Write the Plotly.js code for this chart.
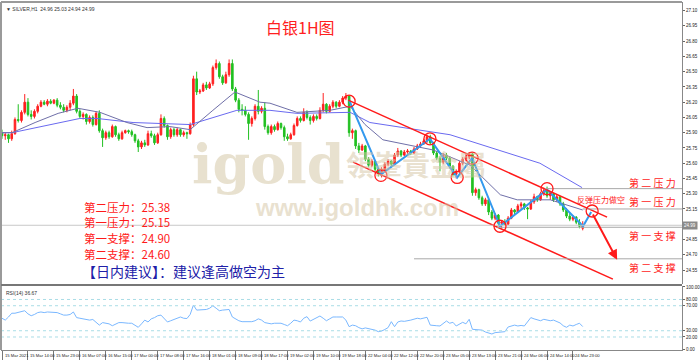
<!DOCTYPE html>
<html><head><meta charset="utf-8">
<script src="https://cdn.plot.ly/plotly-3.0.1.min.js"></script>
<style>html,body{margin:0;padding:0;background:#fff}#c{width:700px;height:361px}</style>
</head><body><div id="c"></div>
<script>
// ---- data ----
const opens = [25.90,25.87,25.88,25.84,25.89,26.03,26.02,26.10,26.20,26.08,26.06,26.11,26.16,26.20,26.18,26.21,26.19,26.22,26.17,26.15,26.12,26.15,26.19,26.26,26.11,26.06,26.08,26.01,26.05,25.98,26.09,25.92,25.85,25.90,25.86,25.96,25.88,25.84,25.90,25.92,25.91,25.88,25.82,25.76,25.80,25.78,25.89,25.87,25.80,25.88,26.04,25.97,25.86,25.93,25.88,25.93,25.88,25.90,25.89,25.98,26.43,26.30,26.31,26.37,26.34,26.38,26.54,26.58,26.45,26.39,26.47,26.58,26.33,26.22,26.13,26.12,26.08,25.99,26.04,26.16,26.11,26.14,25.96,25.90,25.96,25.93,25.99,25.95,25.86,25.84,25.88,25.97,26.04,26.02,26.10,26.05,26.02,26.06,26.04,26.12,26.18,26.11,26.16,26.20,26.16,26.20,26.24,26.26,25.90,25.92,25.77,25.73,25.77,25.64,25.58,25.62,25.54,25.50,25.53,25.59,25.62,25.59,25.68,25.72,25.68,25.71,25.72,25.70,25.74,25.77,25.79,25.82,25.86,25.80,25.70,25.65,25.61,25.68,25.65,25.57,25.49,25.52,25.60,25.64,25.66,25.69,25.31,25.34,25.26,25.20,25.24,25.12,25.06,25.09,25.01,25.02,25.00,25.06,25.14,25.12,25.18,25.20,25.16,25.15,25.22,25.27,25.24,25.30,25.33,25.28,25.30,25.24,25.27,25.20,25.14,25.08,25.05,25.07,25.02,24.96];
const highs = [25.93,25.90,25.89,25.92,26.05,26.18,26.12,26.28,26.24,26.12,26.13,26.18,26.22,26.22,26.23,26.23,26.23,26.24,26.20,26.18,26.17,26.22,26.33,26.28,26.13,26.10,26.09,26.07,26.07,26.11,26.12,25.94,25.92,25.92,25.98,25.97,25.90,25.92,25.93,25.93,25.93,25.89,25.84,25.82,25.83,25.92,25.92,25.89,25.90,26.08,26.06,25.98,25.95,25.95,25.95,25.94,25.92,25.91,26.00,26.46,26.50,26.33,26.39,26.40,26.40,26.56,26.62,26.60,26.47,26.50,26.62,26.62,26.35,26.24,26.18,26.16,26.10,26.06,26.18,26.32,26.16,26.20,25.98,25.98,25.98,26.01,26.00,25.97,25.89,25.90,25.99,26.06,26.06,26.14,26.12,26.07,26.08,26.08,26.15,26.29,26.19,26.18,26.22,26.21,26.22,26.26,26.29,26.27,25.94,25.93,25.80,25.79,25.78,25.66,25.64,25.63,25.56,25.56,25.61,25.64,25.63,25.70,25.75,25.73,25.73,25.74,25.73,25.76,25.79,25.81,25.84,25.88,25.88,25.81,25.72,25.67,25.70,25.70,25.67,25.58,25.54,25.62,25.66,25.70,25.71,25.70,25.36,25.35,25.28,25.26,25.25,25.14,25.11,25.10,25.04,25.05,25.08,25.16,25.15,25.20,25.22,25.21,25.17,25.24,25.30,25.28,25.32,25.36,25.37,25.32,25.31,25.29,25.28,25.22,25.16,25.12,25.09,25.08,25.05,25.03];
const lows = [25.84,25.83,25.80,25.82,25.88,26.00,26.00,26.08,26.06,26.03,26.04,26.09,26.15,26.17,26.16,26.18,26.18,26.15,26.13,26.10,26.10,26.12,26.17,26.09,26.04,26.03,25.98,25.99,25.96,25.97,25.90,25.76,25.83,25.84,25.85,25.86,25.82,25.83,25.89,25.89,25.86,25.80,25.71,25.74,25.76,25.77,25.85,25.78,25.79,25.87,25.95,25.83,25.84,25.86,25.86,25.86,25.86,25.84,25.88,25.96,26.27,26.28,26.30,26.32,26.33,26.36,26.52,26.43,26.37,26.38,26.45,26.31,26.20,26.10,26.07,26.06,25.83,25.96,26.02,26.08,26.09,25.93,25.88,25.88,25.91,25.92,25.93,25.82,25.82,25.83,25.87,25.96,26.00,26.01,26.03,25.98,26.00,26.02,26.03,26.10,26.09,26.10,26.14,26.14,26.15,26.18,26.22,25.86,25.84,25.74,25.70,25.72,25.62,25.56,25.56,25.52,25.47,25.46,25.51,25.57,25.57,25.58,25.66,25.66,25.67,25.69,25.68,25.69,25.73,25.75,25.78,25.80,25.78,25.68,25.63,25.52,25.59,25.63,25.55,25.47,25.45,25.51,25.58,25.62,25.64,25.28,25.28,25.24,25.18,25.18,25.09,25.04,25.04,24.98,24.96,24.99,24.99,25.05,25.10,25.11,25.15,25.14,25.05,25.14,25.20,25.22,25.23,25.28,25.26,25.24,25.22,25.22,25.18,25.12,25.06,25.03,25.03,25.00,24.96,24.94];
const closes = [25.87,25.88,25.84,25.89,26.03,26.02,26.10,26.20,26.08,26.06,26.11,26.16,26.20,26.18,26.21,26.19,26.22,26.17,26.15,26.12,26.15,26.19,26.26,26.11,26.06,26.08,26.01,26.05,25.98,26.09,25.92,25.85,25.90,25.86,25.96,25.88,25.84,25.90,25.92,25.91,25.88,25.82,25.76,25.80,25.78,25.89,25.87,25.80,25.88,26.04,25.97,25.86,25.93,25.88,25.93,25.88,25.90,25.89,25.98,26.43,26.30,26.31,26.37,26.34,26.38,26.54,26.58,26.45,26.39,26.47,26.58,26.33,26.22,26.13,26.12,26.08,25.99,26.04,26.16,26.11,26.14,25.96,25.90,25.96,25.93,25.99,25.95,25.86,25.84,25.88,25.97,26.04,26.02,26.10,26.05,26.02,26.06,26.04,26.12,26.18,26.11,26.16,26.20,26.16,26.20,26.24,26.26,25.90,25.92,25.77,25.73,25.77,25.64,25.58,25.62,25.54,25.50,25.53,25.59,25.62,25.59,25.68,25.72,25.68,25.71,25.72,25.70,25.74,25.77,25.79,25.82,25.86,25.80,25.70,25.65,25.61,25.68,25.65,25.57,25.49,25.52,25.60,25.64,25.66,25.69,25.31,25.34,25.26,25.20,25.24,25.12,25.06,25.09,25.01,25.02,25.00,25.06,25.14,25.12,25.18,25.20,25.16,25.15,25.22,25.27,25.24,25.30,25.33,25.28,25.30,25.24,25.27,25.20,25.14,25.08,25.05,25.07,25.02,24.98,24.99];
const rsi = [50,47,52,58,58,59,60,62,57,54,56,59,60,59,60,60,59,59,57,55,55,56,60,51,50,49,48,47,48,43,39,43,42,41,38,40,43,43,42,42,42,39,35.5,41,47,44,49,51,54,55,50,44,46,48,50,52,50,49.5,56,71,63,63,64,64,66,70,66,62,63,64,64,52,49,46,44.5,44.5,44,44.5,46,49,47,43,42,41,42,42,42,40,38,42,47,46,44,50,52.5,45.5,48,51,53.6,50,46,49,52,52,52,52,47,36.5,39,38,35,33,34.5,33.5,32,31,28.5,29.5,32,35,44.5,36.5,44,45.6,45,45.6,47,48.5,50,49,50.5,51.5,39,38,38,37.6,41,45.6,42,43.5,37.6,40,43.5,41,48.3,32.3,32,31,31,28,26,24.8,27,27.5,28,28.5,36,38,39,37.6,38.5,37.6,44,51,49,47,46,48.3,47,46,47,45,42.5,38,35.5,39,37.6,40,42,36.67];
const timeLabels = ['15 Mar 2021','15 Mar 14:00','15 Mar 23:00','16 Mar 07:00','16 Mar 15:00','17 Mar 00:00','17 Mar 08:00','17 Mar 16:00','18 Mar 01:00','18 Mar 09:00','18 Mar 17:00','19 Mar 02:00','19 Mar 10:00','19 Mar 18:00','22 Mar 04:00','22 Mar 12:00','22 Mar 20:00','23 Mar 05:00','23 Mar 13:00','23 Mar 21:00','24 Mar 06:00','24 Mar 14:00','24 Mar 23:00'];
const priceTicks = [24.55,24.70,24.85,25.15,25.30,25.45,25.60,25.75,25.90,26.05,26.20,26.35,26.50,26.65,26.80,26.95,27.10];
const rsiTicks = [0,20,30,70,80,100];
const rsiLevels = [80,70,30,20];
// moving averages (knots)
const maFastIdx = [0,3.1,10.2,17.3,23.4,30.2,38.5,44.7,51.8,58,65,71.8,79.5,82.6,90.9,101.1,107.3,111.9,117.4,132.9,144.3,153.6,158.8,169,179];
const maFastVal = [25.90,25.90,26.00,26.09,26.14,26.10,26.00,25.95,25.96,25.93,26.12,26.30,26.20,26.19,26.10,26.12,26.16,25.98,25.83,25.73,25.58,25.29,25.24,25.24,25.14];
const maSlowIdx = [0,3.1,24,29.3,40.4,54.9,58,72.4,82.6,90.9,107.3,113.4,138.1,165.8,178.8];
const maSlowVal = [25.90,25.90,26.04,26.04,26.00,25.98,25.98,26.12,26.12,26.09,26.10,26.00,25.88,25.60,25.36];
// analysis drawings
const zigIdx = [107,116.8,131.9,140.3,144.9,153.5,168,179.1,181.6];
const zigVal = [26.22,25.49,25.84,25.46,25.65,24.98,25.34,24.98,25.12];
const circIdx = [107,116.8,131.9,140.3,144.9,153.5,168,181.9];
const circVal = [26.21,25.48,25.84,25.46,25.65,24.98,25.35,25.13];
const chanUpper = {i:[106.7,186.5], p:[26.22,25.07]};
const chanLower = {i:[108.2,188.3], p:[25.61,24.46]};
const arrowFrom = [181.9,25.11], arrowTo = [189.6,24.65];
const levelVal = [25.35,25.15,24.97,24.66];
const levelStart = [167.4,179,152.6,127];
const levelNames = ['第二压力','第一压力','第一支撑','第二支撑'];
const levelNameY = [25.415,25.219,24.894,24.57];
const planNames = ['第二压力','第一压力','第一支撑','第二支撑'];
const planVals = ['25.38','25.15','24.90','24.60'];

// ---- chart ----
const N = closes.length;
const idx = closes.map((_, k) => k);
const XR = [-0.31, 209.6];
const traces = [
 {type:'candlestick', x:idx, open:opens, high:highs, low:lows, close:closes, xaxis:'x', yaxis:'y',
  increasing:{line:{color:'#ff2020',width:1}, fillcolor:'#ff2020'},
  decreasing:{line:{color:'#22c022',width:1}, fillcolor:'#22c022'}, whiskerwidth:0, hoverinfo:'skip'},
 {type:'scatter', mode:'lines', x:maSlowIdx, y:maSlowVal, line:{color:'#6a6af0',width:1}, hoverinfo:'skip'},
 {type:'scatter', mode:'lines', x:maFastIdx, y:maFastVal, line:{color:'#6f6fa8',width:1}, hoverinfo:'skip'},
 {type:'scatter', mode:'lines', x:zigIdx, y:zigVal, line:{color:'#3399ee',width:2}, hoverinfo:'skip'},
 {type:'scatter', mode:'lines', x:idx, y:rsi, xaxis:'x', yaxis:'y2', line:{color:'#7ab8ff',width:1}, hoverinfo:'skip'}
];
const shapes = [];
const red = '#ff1a1a';
shapes.push({type:'line', xref:'x', yref:'y', x0:chanUpper.i[0], y0:chanUpper.p[0], x1:chanUpper.i[1], y1:chanUpper.p[1], line:{color:red,width:1.5}});
shapes.push({type:'line', xref:'x', yref:'y', x0:chanLower.i[0], y0:chanLower.p[0], x1:chanLower.i[1], y1:chanLower.p[1], line:{color:red,width:1.5}});
levelVal.forEach((v,k)=>shapes.push({type:'line', xref:'x', yref:'y', x0:levelStart[k], x1:XR[1], y0:v, y1:v, line:{color:'#a8a8a8',width:1}}));
// bid line
shapes.push({type:'line', xref:'paper', yref:'y', x0:0, x1:1, y0:closes[N-1], y1:closes[N-1], line:{color:'#c8c8c8',width:1}});
circIdx.forEach((c,k)=>shapes.push({type:'circle', xref:'x', yref:'y', xsizemode:'pixel', ysizemode:'pixel', xanchor:c, yanchor:circVal[k], x0:-6, x1:6, y0:-6, y1:6, line:{color:red,width:1.3}}));
rsiLevels.forEach(v=>shapes.push({type:'line', xref:'paper', yref:'y2', x0:0, x1:1, y0:v, y1:v, line:{color:'#a9dde6',width:1,dash:'dot'}}));
// frame
shapes.push({type:'line', xref:'paper', yref:'paper', x0:0, x1:1, y0:1, y1:1, line:{color:'#9a9a9a',width:2}});
shapes.push({type:'line', xref:'paper', yref:'paper', x0:0, x1:0, y0:0, y1:1, line:{color:'#9a9a9a',width:2}});
shapes.push({type:'line', xref:'paper', yref:'paper', x0:0, x1:1, y0:0.1868, y1:0.1868, line:{color:'#777',width:2}});

const wm = 'rgba(214,200,168,0.55)';
const tiny = {size:4.2, family:'Liberation Sans', color:'#222'};
const annotations = [
 {xref:'paper', yref:'paper', x:0.004, y:1, yshift:-2, xanchor:'left', yanchor:'top', showarrow:false, text:'▼ SILVER,H1  24.96 25.03 24.94 24.99', font:{size:5, family:'Liberation Sans', color:'#333'}},
 {xref:'paper', yref:'paper', x:0.004, y:0.184, yshift:-2, xanchor:'left', yanchor:'top', showarrow:false, text:'RSI(14) 36.67', font:{size:5, family:'Liberation Sans', color:'#333'}},
 {xref:'x', yref:'y', x:91.9, y:26.94, showarrow:false, text:'白银1H图', font:{size:16, family:'Noto Sans CJK SC', color:'#ff2020'}},
 {xref:'x', yref:'y', x:58, y:25.59, xanchor:'left', showarrow:false, text:'<b>igold</b>', font:{size:54, family:'DejaVu Serif', color:wm}},
 {xref:'x', yref:'y', x:105.5, y:25.59, xanchor:'left', showarrow:false, text:'<b>領峯貴金屬</b>', font:{size:28, family:'Noto Sans CJK TC', color:wm}},
 {xref:'x', yref:'y', x:109.4, y:25.16, showarrow:false, text:'<b>www.igoldhk.com</b>', font:{size:24, family:'Liberation Sans', color:wm}},
 {xref:'x', yref:'y', x:184.5, y:25.24, showarrow:false, text:'反弹压力做空', font:{size:8, family:'Noto Sans CJK SC', color:red}},
 {xref:'x', yref:'y', x:arrowTo[0], y:arrowTo[1], ax:arrowFrom[0], ay:arrowFrom[1], axref:'x', ayref:'y', showarrow:true, text:'', arrowcolor:red, arrowwidth:2, arrowhead:2, arrowsize:1},
 {xref:'paper', yref:'y', x:1, y:closes[N-1], xanchor:'left', showarrow:false, text:closes[N-1].toFixed(2), bgcolor:'#8a8a8a', font:{size:4.5, family:'Liberation Sans', color:'#fff'}, borderpad:1}
];
timeLabels.forEach((t,k)=>annotations.push({xref:'x', yref:'paper', x:k*8, y:0, xanchor:'left', yanchor:'top', xshift:0.5, yshift:-1, showarrow:false, text:t, font:tiny}));
levelNames.forEach((t,k)=>annotations.push({xref:'x', yref:'y', x:200.4, y:levelNameY[k], showarrow:false, text:t.split('').join(' '), font:{size:10, family:'Noto Sans CJK SC', color:red}}));
const planY = [25.17,25.02,24.865,24.71];
planNames.forEach((t,k)=>annotations.push({xref:'x', yref:'y', x:24.7, y:planY[k], xanchor:'left', showarrow:false, text:t+'：'+planVals[k], font:{size:11.5, family:'Noto Sans CJK SC', color:red}}));
annotations.push({xref:'x', yref:'y', x:24.0, y:24.54, xanchor:'left', showarrow:false, text:'【日内建议】：建议逢高做空为主', font:{size:14, family:'Noto Sans CJK SC', color:'#2020a8'}});

const axTick = {size:4.5, family:'Liberation Sans', color:'#222'};
const layout = {
 width:700, height:361, margin:{l:1,r:18,t:2,b:11}, paper_bgcolor:'#fff', plot_bgcolor:'#fff', showlegend:false,
 xaxis:{range:XR, anchor:'y2', tickvals:timeLabels.map((_,k)=>k*8), showticklabels:false, ticks:'outside', ticklen:9, tickcolor:'#777',
   showgrid:false, zeroline:false, showline:true, linecolor:'#888', rangeslider:{visible:false}, fixedrange:true},
 yaxis:{domain:[0.1897,1], range:[24.4125,27.185], side:'right', tickvals:priceTicks, tickformat:'.2f', ticks:'outside', ticklen:2, tickcolor:'#666',
   tickfont:axTick, showgrid:false, zeroline:false, showline:true, linecolor:'#888', fixedrange:true},
 yaxis2:{domain:[0,0.184], range:[-0.8,101.6], side:'right', tickvals:rsiTicks, tickformat:'.2f', ticks:'outside', ticklen:2, tickcolor:'#666',
   tickfont:axTick, showgrid:false, zeroline:false, showline:true, linecolor:'#888', fixedrange:true},
 shapes, annotations
};
Plotly.newPlot('c', traces, layout, {staticPlot:true, displayModeBar:false});
</script></body></html>
